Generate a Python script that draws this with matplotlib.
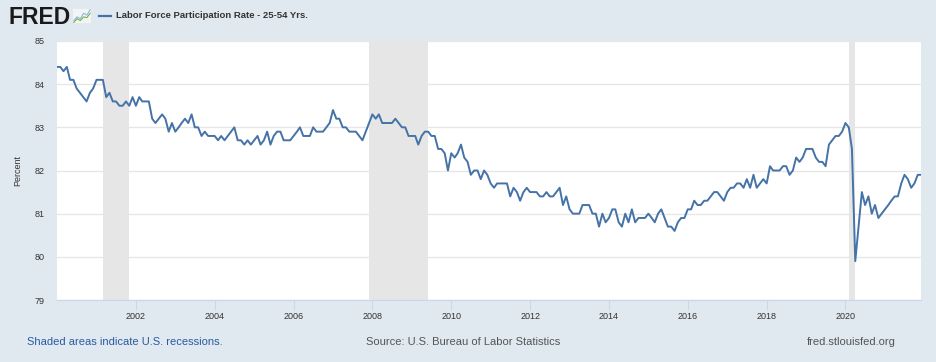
import numpy as np
import pandas as pd
import matplotlib
matplotlib.use("Agg")
import matplotlib.pyplot as plt
import matplotlib.dates as mdates

plt.rcParams['font.family'] = ['Liberation Sans', 'DejaVu Sans']

# monthly values, one list per year (Jan..Dec)
lfpr_2000 = [84.4, 84.4, 84.3, 84.4, 84.1, 84.1, 83.9, 83.8, 83.7, 83.6, 83.8, 83.9]
lfpr_2001 = [84.1, 84.1, 84.1, 83.7, 83.8, 83.6, 83.6, 83.5, 83.5, 83.6, 83.5, 83.7]
lfpr_2002 = [83.5, 83.7, 83.6, 83.6, 83.6, 83.2, 83.1, 83.2, 83.3, 83.2, 82.9, 83.1]
lfpr_2003 = [82.9, 83.0, 83.1, 83.2, 83.1, 83.3, 83.0, 83.0, 82.8, 82.9, 82.8, 82.8]
lfpr_2004 = [82.8, 82.7, 82.8, 82.7, 82.8, 82.9, 83.0, 82.7, 82.7, 82.6, 82.7, 82.6]
lfpr_2005 = [82.7, 82.8, 82.6, 82.7, 82.9, 82.6, 82.8, 82.9, 82.9, 82.7, 82.7, 82.7]
lfpr_2006 = [82.8, 82.9, 83.0, 82.8, 82.8, 82.8, 83.0, 82.9, 82.9, 82.9, 83.0, 83.1]
lfpr_2007 = [83.4, 83.2, 83.2, 83.0, 83.0, 82.9, 82.9, 82.9, 82.8, 82.7, 82.9, 83.1]
lfpr_2008 = [83.3, 83.2, 83.3, 83.1, 83.1, 83.1, 83.1, 83.2, 83.1, 83.0, 83.0, 82.8]
lfpr_2009 = [82.8, 82.8, 82.6, 82.8, 82.9, 82.9, 82.8, 82.8, 82.5, 82.5, 82.4, 82.0]
lfpr_2010 = [82.4, 82.3, 82.4, 82.6, 82.3, 82.2, 81.9, 82.0, 82.0, 81.8, 82.0, 81.9]
lfpr_2011 = [81.7, 81.6, 81.7, 81.7, 81.7, 81.7, 81.4, 81.6, 81.5, 81.3, 81.5, 81.6]
lfpr_2012 = [81.5, 81.5, 81.5, 81.4, 81.4, 81.5, 81.4, 81.4, 81.5, 81.6, 81.2, 81.4]
lfpr_2013 = [81.1, 81.0, 81.0, 81.0, 81.2, 81.2, 81.2, 81.0, 81.0, 80.7, 81.0, 80.8]
lfpr_2014 = [80.9, 81.1, 81.1, 80.8, 80.7, 81.0, 80.8, 81.1, 80.8, 80.9, 80.9, 80.9]
lfpr_2015 = [81.0, 80.9, 80.8, 81.0, 81.1, 80.9, 80.7, 80.7, 80.6, 80.8, 80.9, 80.9]
lfpr_2016 = [81.1, 81.1, 81.3, 81.2, 81.2, 81.3, 81.3, 81.4, 81.5, 81.5, 81.4, 81.3]
lfpr_2017 = [81.5, 81.6, 81.6, 81.7, 81.7, 81.6, 81.8, 81.6, 81.9, 81.6, 81.7, 81.8]
lfpr_2018 = [81.7, 82.1, 82.0, 82.0, 82.0, 82.1, 82.1, 81.9, 82.0, 82.3, 82.2, 82.3]
lfpr_2019 = [82.5, 82.5, 82.5, 82.3, 82.2, 82.2, 82.1, 82.6, 82.7, 82.8, 82.8, 82.9]
lfpr_2020 = [83.1, 83.0, 82.5, 79.9, 80.7, 81.5, 81.2, 81.4, 81.0, 81.2, 80.9, 81.0]
lfpr_2021 = [81.1, 81.2, 81.3, 81.4, 81.4, 81.7, 81.9, 81.8, 81.6, 81.7, 81.9, 81.9]

values = (lfpr_2000 + lfpr_2001 + lfpr_2002 + lfpr_2003 + lfpr_2004 + lfpr_2005
          + lfpr_2006 + lfpr_2007 + lfpr_2008 + lfpr_2009 + lfpr_2010 + lfpr_2011
          + lfpr_2012 + lfpr_2013 + lfpr_2014 + lfpr_2015 + lfpr_2016 + lfpr_2017
          + lfpr_2018 + lfpr_2019 + lfpr_2020 + lfpr_2021)
dates = pd.date_range('2000-01-01', periods=len(values), freq='MS')

recession_starts = ['2001-03-01', '2007-12-01', '2020-02-01']
recession_ends = ['2001-11-01', '2009-06-01', '2020-04-01']

tick_years = [2002, 2004, 2006, 2008, 2010, 2012, 2014, 2016, 2018, 2020]
y_ticks = [79, 80, 81, 82, 83, 84, 85]

W, H = 936, 362
bg = '#e1e9f0'
fig = plt.figure(figsize=(W / 100, H / 100), dpi=100, facecolor=bg)

# plot area in pixels
left, right, top, bottom = 57, 921, 41, 300
ax = fig.add_axes([left / W, 1 - bottom / H, (right - left) / W, (bottom - top) / H])
ax.set_facecolor('white')

for s, e in zip(recession_starts, recession_ends):
    ax.axvspan(pd.Timestamp(s), pd.Timestamp(e), color='#e6e6e6', lw=0, zorder=1)

ax.plot(dates, values, color='#4572a7', lw=1.4, zorder=3)

ax.set_xlim(dates[0], dates[-1])
ax.set_ylim(79, 85)
ax.set_yticks(y_ticks)
ax.yaxis.grid(True, color='#e6e6e6', lw=0.9, zorder=0)
ax.set_axisbelow(True)
ax.tick_params(axis='y', length=0, pad=9, labelsize=6.5, labelcolor='#333333')

ax.set_xticks([pd.Timestamp(f'{y}-01-01') for y in tick_years])
ax.xaxis.set_major_formatter(mdates.DateFormatter('%Y'))
ax.tick_params(axis='x', length=7, width=0.8, color='#ccd6eb', pad=1.5,
               labelsize=6.5, labelcolor='#333333')

for sp in ['left', 'right', 'top']:
    ax.spines[sp].set_visible(False)
ax.spines['bottom'].set_color('#ccd6eb')
ax.spines['bottom'].set_linewidth(0.9)

ax.set_ylabel('Percent', fontsize=6.5, color='#333333', labelpad=9)

# header
fig.text(8 / W, 1 - 17 / H, 'FRED', fontsize=16.5, fontweight='heavy', color='#1a1a1a',
         va='center', ha='left')
icon = fig.add_axes([73 / W, 1 - 23 / H, 18 / W, 14 / H])
icon.set_facecolor('#f2f4f6')
icon.plot([0, 1, 2, 3, 4, 5], [1, 2, 1.5, 3, 2.5, 4], color='#8db8e0', lw=0.8)
icon.plot([0, 1, 2, 3, 4, 5], [0.5, 1.5, 1, 2, 1.8, 3], color='#7cb342', lw=0.8)
icon.set_xticks([])
icon.set_yticks([])
for sp in icon.spines.values():
    sp.set_visible(False)

fig.add_artist(plt.Line2D([99 / W, 111 / W], [1 - 16 / H, 1 - 16 / H],
                          color='#4572a7', lw=1.6))
fig.text(116 / W, 1 - 16 / H, 'Labor Force Participation Rate - 25-54 Yrs.',
         fontsize=6.8, fontweight='bold', color='#333333', va='center', ha='left')

# footer
fig.text(27 / W, 1 - 342 / H, 'Shaded areas indicate U.S. recessions.',
         fontsize=8, color='#2a5aa0', va='center', ha='left')
fig.text(463 / W, 1 - 342 / H, 'Source: U.S. Bureau of Labor Statistics',
         fontsize=8, color='#555555', va='center', ha='center')
fig.text(896 / W, 1 - 342 / H, 'fred.stlouisfed.org',
         fontsize=8, color='#555555', va='center', ha='right')

fig.savefig('out.png', dpi=100, facecolor=bg)
